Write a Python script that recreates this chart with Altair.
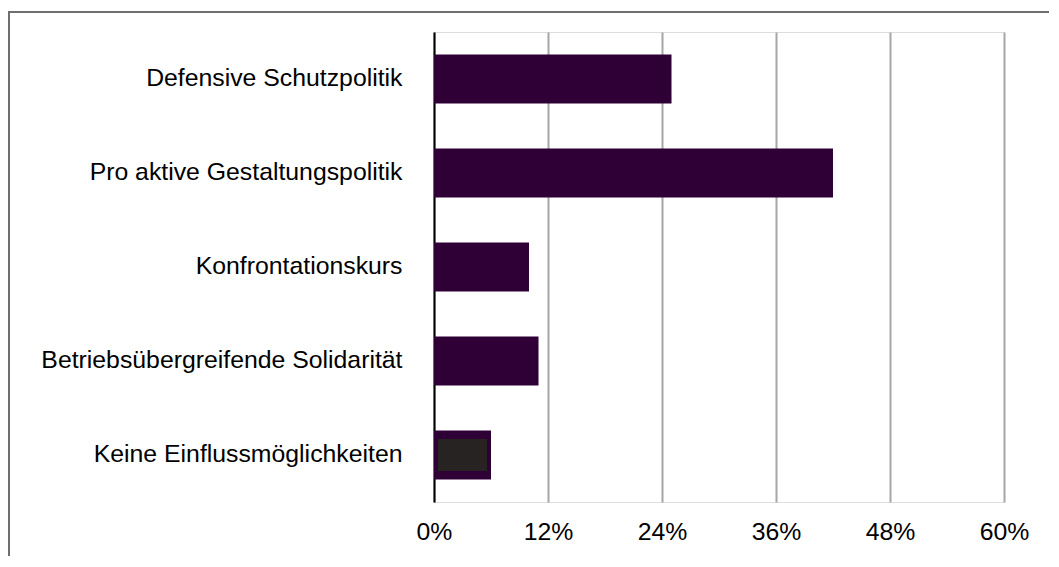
import altair as alt
import pandas as pd

categories = [
    "Defensive Schutzpolitik",
    "Pro aktive Gestaltungspolitik",
    "Konfrontationskurs",
    "Betriebsübergreifende Solidarität",
    "Keine Einflussmöglichkeiten",
]
values = [25, 42, 10, 11, 6]
tick_values = [0, 12, 24, 36, 48, 60]
inner_highlight = ["Keine Einflussmöglichkeiten"]

df = pd.DataFrame({"cat": categories, "val": values})

FONT = "Liberation Sans"
PURPLE = "#2f0035"
FS = 24.8

y_enc = alt.Y(
    "cat:N",
    sort=categories,
    title=None,
    scale=alt.Scale(paddingInner=0.48, paddingOuter=0.24),
    axis=alt.Axis(
        ticks=False,
        domain=True,
        domainColor="#000000",
        domainWidth=2,
        labelPadding=32,
        labelFontSize=FS,
        labelFont=FONT,
        labelColor="#000000",
        labelLimit=500,
        grid=False,
    ),
)
x_enc = alt.X(
    "val:Q",
    title=None,
    scale=alt.Scale(domain=[0, 60], nice=False),
    axis=alt.Axis(
        values=tick_values,
        labelExpr="datum.value + '%'",
        ticks=False,
        domain=False,
        grid=True,
        gridColor="#a6a6a6",
        gridWidth=2,
        labelFlush=False,
        labelPadding=17,
        labelFontSize=FS,
        labelFont=FONT,
        labelColor="#000000",
    ),
)

bars = alt.Chart(df).mark_bar(color=PURPLE).encode(x=x_enc, y=y_enc)

inner = (
    alt.Chart(df)
    .transform_filter(alt.FieldOneOfPredicate(field="cat", oneOf=inner_highlight))
    .transform_calculate(zero="0")
    .mark_bar(color="#262322", size=32, xOffset=4, x2Offset=-4)
    .encode(
        x=alt.X("zero:Q"),
        x2=alt.X2("val:Q"),
        y=alt.Y("cat:N", sort=categories),
    )
)

frame_left = alt.Chart(df).mark_rule(color="#6e6e6e", strokeWidth=2).encode(
    x=alt.value(-425), y=alt.value(-20), y2=alt.value(700)
)
frame_top = alt.Chart(df).mark_rule(color="#6e6e6e", strokeWidth=2).encode(
    x=alt.value(-426), x2=alt.value(800), y=alt.value(-20)
)

chart = (
    alt.layer(bars, inner, frame_left, frame_top)
    .properties(
        width=570,
        height=470,
        autosize=alt.AutoSizeParams(type="none"),
        padding={"left": 426, "top": 24, "right": 45, "bottom": 54},
    )
    .configure_view(stroke=None)
    .configure(background="white")
)

chart.save("out.html", embed_options={"renderer": "svg", "actions": False})
